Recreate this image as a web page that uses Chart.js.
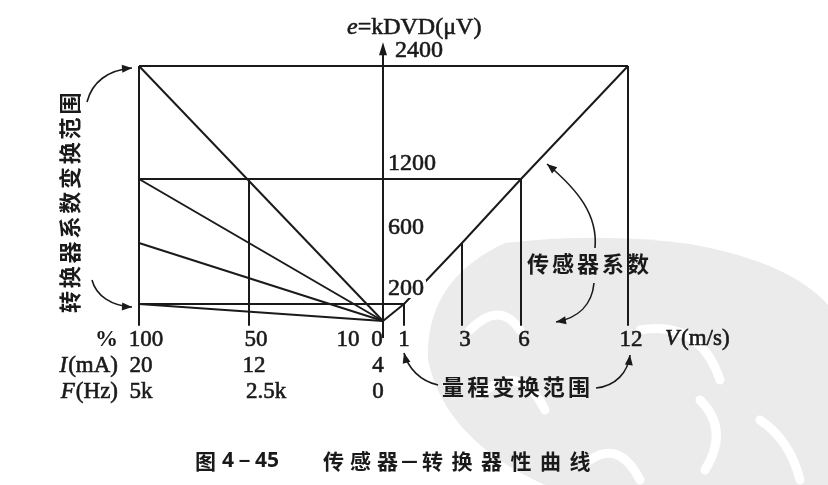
<!DOCTYPE html>
<html>
<head>
<meta charset="utf-8">
<script src="https://cdn.jsdelivr.net/npm/chart.js@4/dist/chart.umd.min.js"></script>
<style>
  html,body{margin:0;padding:0;background:#fff;}
  #wrap{width:828px;height:485px;}
</style>
</head>
<body>
<div id="wrap"><canvas id="c" width="828" height="485"></canvas></div>
<script>
// ===== Data =====
const speeds      = [1, 3, 6, 12];            // V (m/s)
const signals     = [200, 600, 1200, 2400];   // e = kDVD (μV) at those speeds
const rangeLevels = [2400, 1200, 200];        // horizontals 100% -> speed
const coefLevels  = [2400, 1200, 600, 200];   // converter coefficient fan, from 100% to 0
const pctTicks    = [100, 50, 10, 0];         // %
const currentTicks= ['20', '12', '', '4'];    // I (mA)
const freqTicks   = ['5k', '2.5k', '', '0'];  // F (Hz)
const splitPct    = 50;                       // vertical at 50 %, up to 1200
const DROP = -50;                             // ticks reach a bit under zero

// ===== Schematic (non linear) scale =====
// knots: [value, decimal of the chart area]
const KNOTS = {
  x: [[-118,0],[-100,39/600],[-50,149/600],[-10,242/600],[0,283/600],[1,304/600],[3,362/600],[6,421/600],[12,528/600],[18,1]],
  y: [[-200,0],[0,19/300],[200,36/300],[600,97/300],[1200,161/300],[2400,274/300],[2620,1]]
};
function lerpKnots(v, k, a, b){
  let i=0;
  while(i<k.length-2 && v>k[i+1][a]) i++;
  const p=k[i], q=k[i+1];
  return p[b] + (v-p[a])*(q[b]-p[b])/(q[a]-p[a]);
}
class PiecewiseScale extends Chart.LinearScale {
  static id = 'piecewise';
  static defaults = {};
  getPixelForValue(v){ return v==null ? NaN : this.getPixelForDecimal(lerpKnots(v, KNOTS[this.id], 0, 1)); }
  getValueForPixel(px){ return lerpKnots(this.getDecimalForPixel(px), KNOTS[this.id], 1, 0); }
}
Chart.register(PiecewiseScale);

// ===== Segments =====
const segs = [];
const seg = pts => segs.push(pts.map(([x,y])=>({x,y})));
seg([[0,0], ...speeds.map((v,i)=>[v, signals[i]])]);               // sensor line
speeds.forEach((v,i)=>seg([[v, signals[i]],[v, DROP]]));           // drops to V ticks
rangeLevels.forEach(L=>seg([[-pctTicks[0], L],[speeds[signals.indexOf(L)], L]]));
coefLevels.forEach(L=>seg([[-pctTicks[0], L],[0, 0]]));             // fan
seg([[-pctTicks[0], signals[3]],[-pctTicks[0], DROP]]);            // 100 % vertical
seg([[-splitPct, signals[2]],[-splitPct, DROP]]);                  // 50 % vertical
seg([[0,-180],[0,2575]]);                                          // e axis

const INK = '#1a1a1a';
const SERIF = '"Liberation Serif","DejaVu Serif",serif';
const CJK = '"Noto Sans CJK SC","Noto Sans CJK JP",sans-serif';

function arrowHead(ctx, x, y, fromX, fromY, len=10, w=4){
  const a=Math.atan2(y-fromY, x-fromX);
  ctx.beginPath();
  ctx.moveTo(x,y);
  ctx.lineTo(x-len*Math.cos(a)+w*Math.sin(a), y-len*Math.sin(a)-w*Math.cos(a));
  ctx.lineTo(x-len*Math.cos(a)-w*Math.sin(a), y-len*Math.sin(a)+w*Math.cos(a));
  ctx.closePath(); ctx.fill();
}
function curveArrow(ctx, pts){
  const [s,c1,c2,e]=pts;
  ctx.beginPath(); ctx.moveTo(s[0],s[1]); ctx.bezierCurveTo(c1[0],c1[1],c2[0],c2[1],e[0],e[1]); ctx.stroke();
  arrowHead(ctx, e[0], e[1], c2[0], c2[1]);
}
// slightly heavier text, like the print
function txt(ctx, s, x, y){
  ctx.fillText(s, x, y);
  ctx.save(); ctx.lineWidth=0.6; ctx.strokeText(s, x, y); ctx.restore();
}
function spaced(ctx, text, x, y, step){
  [...text].forEach((ch,i)=>ctx.fillText(ch, x+i*step, y));
}
// italic letter + upright rest, right aligned at x
function unitLabel(ctx, letter, rest, x, y){
  ctx.textAlign='left';
  ctx.font='italic 23px '+SERIF; const w1=ctx.measureText(letter).width;
  ctx.font='23px '+SERIF; const w2=ctx.measureText(rest).width;
  const x0=x-w1-w2-1;
  ctx.font='italic 23px '+SERIF; txt(ctx, letter, x0, y);
  ctx.font='23px '+SERIF; txt(ctx, rest, x0+w1+1, y);
}

const backdrop = {
  id:'backdrop',
  beforeDraw(chart){
    const ctx=chart.ctx; ctx.save();
    ctx.fillStyle='#fff'; ctx.fillRect(0,0,chart.width,chart.height);
    // scanned watermark blob
    ctx.fillStyle='#ebebeb';
    ctx.beginPath();
    ctx.moveTo(505,243);
    ctx.quadraticCurveTo(600,232,690,244);
    ctx.quadraticCurveTo(790,262,828,305);
    ctx.lineTo(828,485); ctx.lineTo(545,485);
    ctx.quadraticCurveTo(445,440,428,360);
    ctx.quadraticCurveTo(425,280,505,243);
    ctx.fill();
    ctx.strokeStyle='#fff'; ctx.lineWidth=9; ctx.lineCap='round';
    [[[470,330],[500,300],[520,330]],[[480,395],[520,360],[545,410]],[[640,330],[700,320],[720,380]],[[700,400],[730,430],[705,470]],[[590,460],[620,440],[640,480]],[[760,420],[790,440],[800,480]]]
      .forEach(([a,b,c])=>{ctx.beginPath();ctx.moveTo(a[0],a[1]);ctx.quadraticCurveTo(b[0],b[1],c[0],c[1]);ctx.stroke();});
    ctx.restore();
  },
  afterDraw(chart){
    const ctx=chart.ctx, X=chart.scales.x, Y=chart.scales.y;
    const px=v=>X.getPixelForValue(v), py=v=>Y.getPixelForValue(v);
    ctx.save();
    ctx.fillStyle=INK; ctx.strokeStyle=INK;
    // axis arrow
    arrowHead(ctx, px(0), py(2600), px(0), py(2400), 13, 4);

    // axis title
    ctx.textBaseline='middle'; ctx.textAlign='left';
    ctx.font='italic 24px '+SERIF; txt(ctx, 'e', 347, 28);
    const ew=ctx.measureText('e').width;
    ctx.font='24px '+SERIF; txt(ctx, '=kDVD(μV)', 347+ew, 28);

    // e ticks
    ctx.font='24px '+SERIF;
    signals.slice().reverse().forEach(L=>{
      const x=px(0)+(L===2400?12:5), y=py(L)-15;
      if(L===200){
        const w=ctx.measureText('200').width;
        ctx.save(); ctx.fillStyle='#fff'; ctx.fillRect(x-1, y-9, w+3, 18); ctx.restore();
      }
      txt(ctx, String(L), x, y);
    });

    // bottom rows
    const rows=[340,366,392];
    ctx.textAlign='right';
    ctx.font='bold 23px '+SERIF; ctx.fillText('%', 118, rows[0]);
    unitLabel(ctx, 'I', '(mA)', 118, rows[1]);
    unitLabel(ctx, 'F', '(Hz)', 118, rows[2]);
    ctx.font='23px '+SERIF;
    ctx.textAlign='center';
    pctTicks.forEach((p,i)=>{
      const x=px(-p)+(p===0?-6:(p===10?6:7));
      txt(ctx, String(p), x, rows[0]);
      if(currentTicks[i]) txt(ctx, currentTicks[i], x-(p===100?5:(p===50?2:-1)), rows[1]);
      if(freqTicks[i]) txt(ctx, freqTicks[i], x-(p===100?5:(p===50?-10:-1)), rows[2]);
    });
    speeds.forEach(v=>txt(ctx, String(v), px(v)+(v===1?0:3), rows[0]));
    ctx.textAlign='left';
    ctx.font='italic 23px '+SERIF; txt(ctx, 'V', 665, rows[0]-1);
    const vw=ctx.measureText('V').width;
    ctx.font='23px '+SERIF; txt(ctx, '(m/s)', 665+vw+2, rows[0]-1);

    // chinese notes
    ctx.font='bold 22px '+CJK; ctx.textAlign='left';
    spaced(ctx, '传感器系数', 527, 264, 25);
    spaced(ctx, '量程变换范围', 442, 387, 25.2);
    ctx.save();
    ctx.translate(70, 313); ctx.rotate(-Math.PI/2);
    spaced(ctx, '转换器系数变换范围', 0, 0, 24.8);
    ctx.restore();

    // caption
    ctx.font='bold 21px '+CJK; ctx.textAlign='left';
    ctx.fillText('图', 195, 461);
    ctx.font='bold 21px "Noto Sans","DejaVu Sans",sans-serif';
    ctx.fillText('4－45', 222, 461);
    ctx.font='bold 21px '+CJK;
    spaced(ctx, '传感器', 323, 461, 27);
    ctx.fillText('－', 399, 461);
    spaced(ctx, '转换器性曲线', 422, 461, 29.5);

    // curved arrows
    ctx.lineWidth=1.6;
    curveArrow(ctx, [[87,102],[92,82],[108,70],[132,68]]);
    curveArrow(ctx, [[92,280],[96,296],[112,306],[132,307]]);
    curveArrow(ctx, [[595,248],[598,215],[578,190],[547,164]]);
    curveArrow(ctx, [[594,283],[592,305],[578,318],[556,322]]);
    curveArrow(ctx, [[438,385],[420,381],[408,368],[404,353]]);
    curveArrow(ctx, [[596,388],[616,386],[628,372],[630,355]]);
    ctx.restore();
  }
};

new Chart(document.getElementById('c'), {
  type:'line',
  data:{ datasets: segs.map(d=>({data:d, borderColor:INK, borderWidth:2, pointRadius:0, fill:false, tension:0})) },
  options:{
    responsive:false, animation:false,
    layout:{ padding:{left:100, right:128, top:40, bottom:145} },
    plugins:{ legend:{display:false}, tooltip:{enabled:false} },
    scales:{
      x:{ type:'piecewise', min:-118, max:18, display:false },
      y:{ type:'piecewise', min:-200, max:2620, display:false }
    }
  },
  plugins:[backdrop]
});
</script>
</body>
</html>
